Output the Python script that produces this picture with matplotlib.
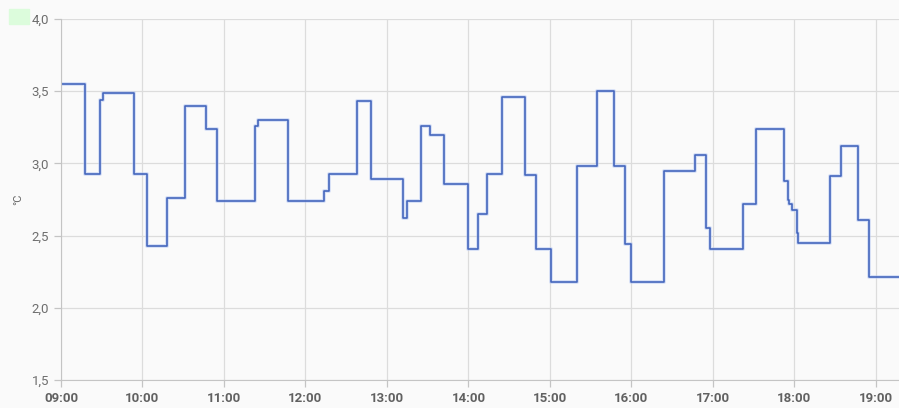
import pandas as pd
import matplotlib
matplotlib.use("Agg")
import matplotlib.pyplot as plt
import matplotlib.dates as mdates
from matplotlib.patches import Rectangle

plt.rcParams["font.family"] = ["Roboto", "DejaVu Sans"]

# step change times and temperature values (°C)
times = ["09:00", "09:18", "09:29", "09:31", "09:54", "10:03", "10:18", "10:31",
         "10:47", "10:55", "11:23", "11:25", "11:47", "12:14", "12:17", "12:38",
         "12:48", "13:12", "13:15", "13:25", "13:32", "13:42", "14:00", "14:07",
         "14:14", "14:25", "14:42", "14:50", "15:01", "15:20", "15:35", "15:47",
         "15:55", "16:00", "16:24", "16:47", "16:55", "16:58", "17:22", "17:32",
         "17:52", "17:55", "17:56", "17:58", "18:02", "18:03", "18:26", "18:34",
         "18:47", "18:55", "19:17"]
temps = [3.55, 2.93, 3.44, 3.49, 2.93, 2.43, 2.76, 3.40,
         3.24, 2.74, 3.26, 3.30, 2.74, 2.81, 2.93, 3.43,
         2.89, 2.62, 2.74, 3.26, 3.20, 2.86, 2.41, 2.65,
         2.93, 3.46, 2.92, 2.41, 2.18, 2.98, 3.50, 2.98,
         2.44, 2.18, 2.95, 3.06, 2.55, 2.41, 2.72, 3.24,
         2.88, 2.75, 2.72, 2.68, 2.52, 2.45, 2.91, 3.12,
         2.61, 2.21, 2.21]
y_ticks = [1.5, 2.0, 2.5, 3.0, 3.5, 4.0]

t = pd.to_datetime(["2024-01-01 " + s for s in times])

fig = plt.figure(figsize=(8.99, 4.08), dpi=100, facecolor="#fafafa")
ax = fig.add_axes([61 / 899, 1 - 380 / 408, 1 - 61 / 899, (380 - 19) / 408])
ax.set_facecolor("#fafafa")

ax.step(t, temps, where="post", color="#b4c6f2", lw=2.8, alpha=0.5)
ax.step(t, temps, where="post", color="#4466bd", lw=1.2)

ax.set_xlim(t[0], t[-1])
ax.set_ylim(1.5, 4.0)
ax.set_yticks(y_ticks)
ax.set_yticklabels([f"{v:.1f}".replace(".", ",") for v in y_ticks])
ax.xaxis.set_major_locator(mdates.HourLocator())
ax.xaxis.set_major_formatter(mdates.DateFormatter("%H:%M"))

ax.grid(True, color="#dcdcdc", lw=0.9)
ax.set_axisbelow(True)
for s in ["top", "right"]:
    ax.spines[s].set_visible(False)
for s in ["left", "bottom"]:
    ax.spines[s].set_color("#c4c4c4")
ax.tick_params(axis="both", colors="#c4c4c4", length=5, width=0.9)
ax.tick_params(axis="y", labelcolor="#6e6e6e", labelsize=9.5)
ax.tick_params(axis="x", labelcolor="#616161", labelsize=9.5)
for lbl in ax.get_xticklabels():
    lbl.set_fontweight("bold")

fig.text(18 / 899, 1 - 199 / 408, "°C", rotation=90, ha="center", va="center",
         color="#666666", fontsize=8)
fig.patches.append(Rectangle((9 / 899, 1 - 24 / 408), 20 / 899, 15 / 408,
                             transform=fig.transFigure, color="#dcfcdc"))

fig.savefig("out.png", dpi=100, facecolor=fig.get_facecolor())
